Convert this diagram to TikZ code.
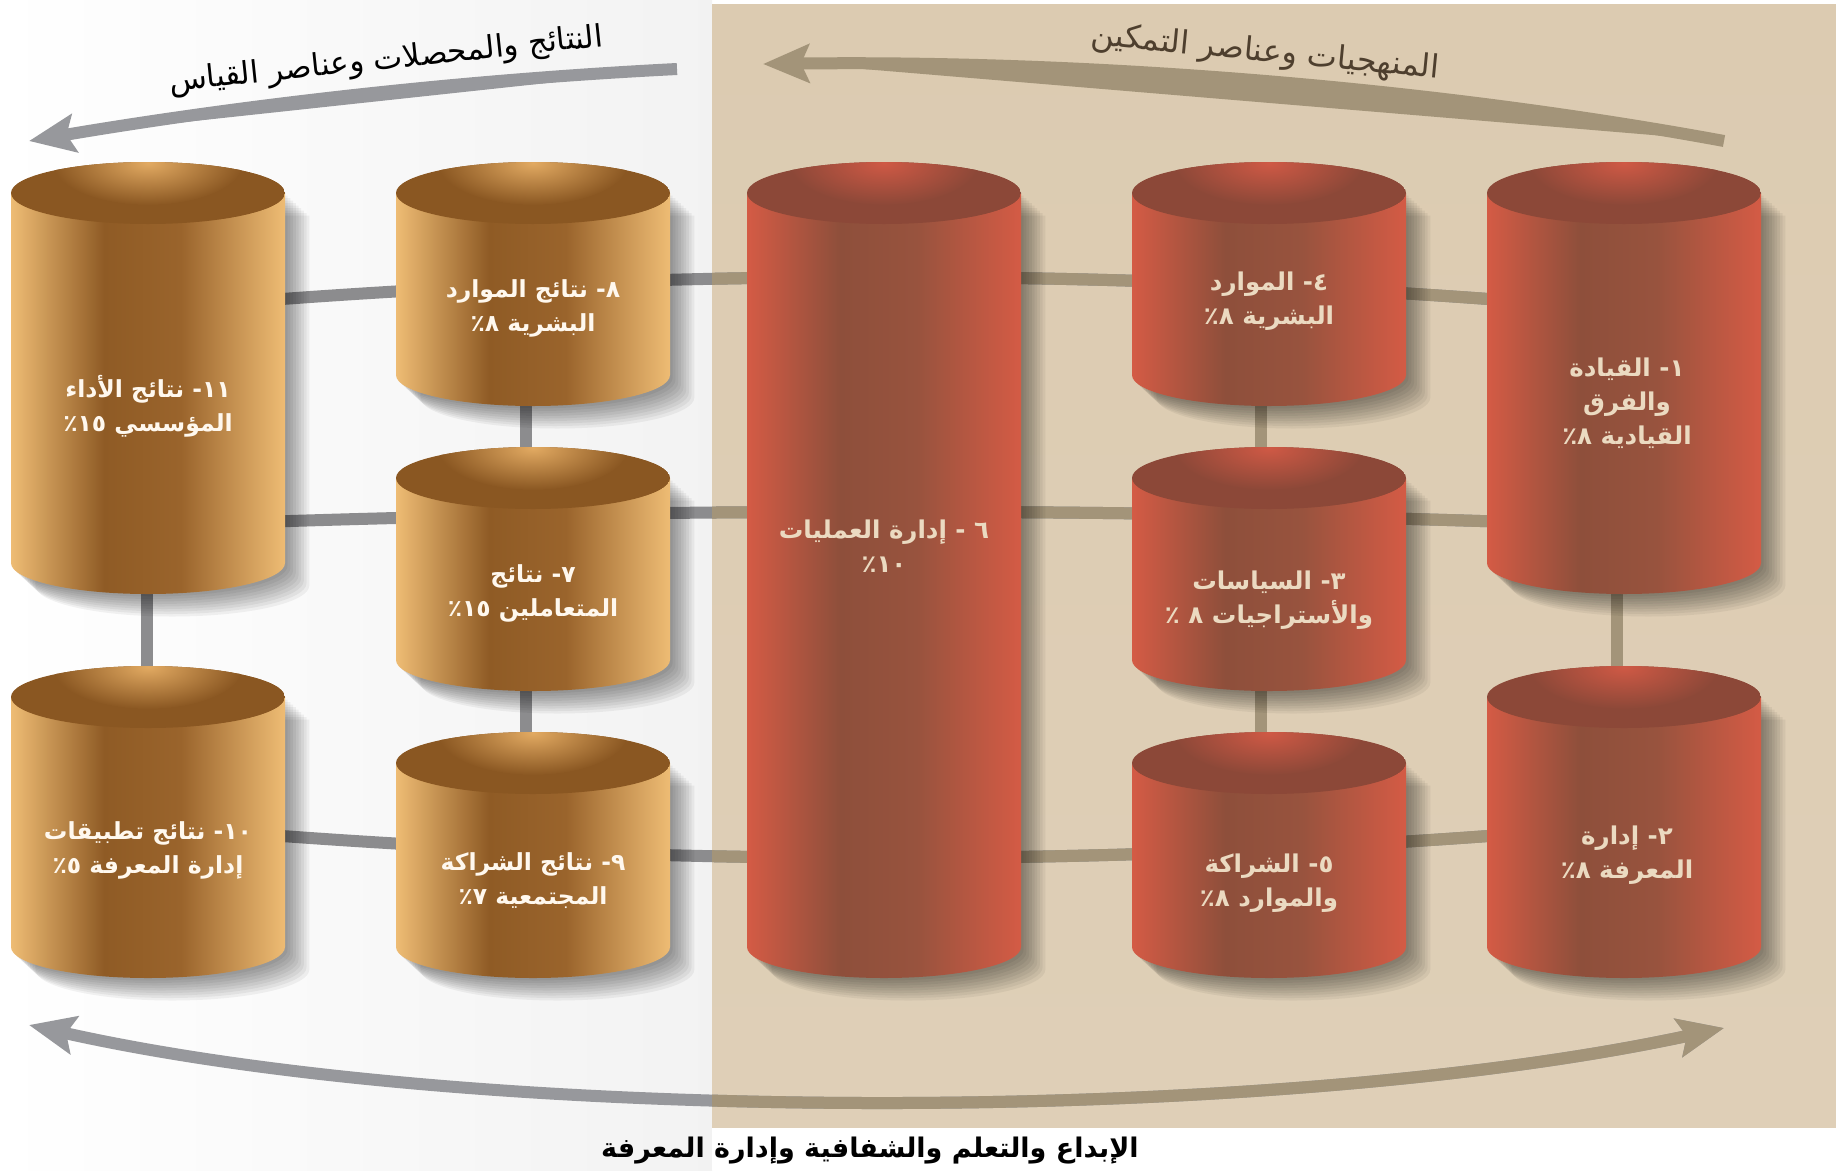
\documentclass[tikz,border=0pt]{standalone}
\usepackage{fontspec}
\TeXXeTstate=1
\newfontfamily\arabicfont[Script=Arabic]{DejaVu Sans}
\usetikzlibrary{arrows.meta}
\definecolor{panel}{HTML}{DCCBB1}
\definecolor{gL}{HTML}{EEBC74}
\definecolor{gD}{HTML}{8F5B25}
\definecolor{gM}{HTML}{9A642C}
\definecolor{gT}{HTML}{8A5722}
\definecolor{gH}{HTML}{E2AA62}
\definecolor{rL}{HTML}{D45B45}
\definecolor{rD}{HTML}{8E4F3B}
\definecolor{rM}{HTML}{98533E}
\definecolor{rT}{HTML}{8C4838}
\definecolor{rH}{HTML}{CF5945}
\definecolor{lineG}{HTML}{8C8C8E}
\definecolor{lineB}{HTML}{A39479}
\definecolor{arrG}{HTML}{97989C}
\definecolor{txtG}{HTML}{FFF8EE}
\definecolor{txtR}{HTML}{EBDAC1}
\definecolor{ttlB}{HTML}{4E3F2E}
\pgfdeclarehorizontalshading{gbody}{100bp}{color(0bp)=(gL); color(25bp)=(gL); color(42bp)=(gD); color(56bp)=(gM); color(75bp)=(gL); color(100bp)=(gL)}
\pgfdeclarehorizontalshading{rbody}{100bp}{color(0bp)=(rL); color(25bp)=(rL); color(42bp)=(rD); color(56bp)=(rM); color(75bp)=(rL); color(100bp)=(rL)}
\newcommand{\cylpath}[3]{(#1-137,#2) -- (#1-137,#3) arc[start angle=180,end angle=0,x radius=137,y radius=31] -- (#1+137,#2) -- cycle}
\newcommand{\cylinder}[4]{%
  \foreach \k in {1,...,9}{
    \fill[black,opacity=0.05,shift={(2.7*\k,2.5*\k)}] \cylpath{#1}{#2}{#3};
  }
  \shade[shading=#4body] \cylpath{#1}{#2}{#3};
  \begin{scope}
    \clip (#1,#2) ellipse [x radius=137,y radius=31];
    \fill[#4T] (#1,#2) ellipse [x radius=137,y radius=31];
    \shade[inner color=#4H, outer color=#4T] (#1,#2-30) ellipse [x radius=95,y radius=42];
  \end{scope}
}
\tikzset{
  gtxt/.style={font=\arabicfont\bfseries\fontsize{23.5}{34}\selectfont, text=txtG, align=center},
  rtxt/.style={font=\arabicfont\bfseries\fontsize{24.5}{34}\selectfont, text=txtR, align=center},
  rowline/.style={line width=12pt},
  bigtip/.style={line width=12pt}
}
\begin{document}
\begin{tikzpicture}[x=1pt,y=-1pt]
\useasboundingbox (0,0) rectangle (1836,1170);
% backgrounds
\shade[left color=white, right color=black!5] (0,0) rectangle (712,1170);
\fill[white] (712,1127) rectangle (1836,1170);
\shade[top color=panel, bottom color=panel!92!white] (712,4) rectangle (1836,1127);
% connector coordinates
\coordinate (t1) at (147,310); \coordinate (t5) at (1624,310);
\coordinate (m1) at (147,526); \coordinate (m5) at (1624,526);
\coordinate (b1) at (147,825); \coordinate (b5) at (1624,825);
\coordinate (v11) at (147,563); \coordinate (v10) at (147,697);
\coordinate (v8) at (526,375); \coordinate (v7a) at (526,478);
\coordinate (v7b) at (526,660); \coordinate (v9) at (526,763);
\coordinate (v4) at (1261,375); \coordinate (v3a) at (1261,478);
\coordinate (v3b) at (1261,660); \coordinate (v5) at (1261,763);
\coordinate (v1) at (1617,563); \coordinate (v2) at (1617,697);
\newcommand{\connectors}{%
  \draw[rowline] (t1) .. controls (638,266) and (1131,266) .. (t5);
  \draw[rowline] (m1) .. controls (638,507) and (1131,507) .. (m5);
  \draw[rowline] (b1) .. controls (638,869) and (1131,869) .. (b5);
  \draw[rowline] (v11) -- (v10);
  \draw[rowline] (v8) -- (v7a);
  \draw[rowline] (v7b) -- (v9);
  \draw[rowline] (v4) -- (v3a);
  \draw[rowline] (v3b) -- (v5);
  \draw[rowline] (v1) -- (v2);
}
\begin{scope}[draw=lineG]\connectors\end{scope}
\begin{scope}
  \clip (712,0) rectangle (1836,1127);
  \begin{scope}[draw=lineB]\connectors\end{scope}
\end{scope}
% cylinders
\cylinder{148}{193}{563}{g}
\cylinder{148}{697}{947}{g}
\cylinder{533}{193}{375}{g}
\cylinder{533}{478}{660}{g}
\cylinder{533}{763}{947}{g}
\cylinder{884}{193}{947}{r}
\cylinder{1269}{193}{375}{r}
\cylinder{1269}{478}{660}{r}
\cylinder{1269}{763}{947}{r}
\cylinder{1624}{193}{563}{r}
\cylinder{1624}{697}{947}{r}
% texts
\node[gtxt] (c11) at (148,406) {\beginR ١١- نتائج الأداء\endR\\\beginR المؤسسي ١٥٪\endR};
\node[gtxt] (c8) at (533,308) {\beginR ٨- نتائج الموارد\endR\\\beginR البشرية ٨٪\endR};
\node[gtxt] (c7) at (533,593) {\beginR ٧- نتائج\endR\\\beginR المتعاملين ١٥٪\endR};
\node[gtxt] (c10) at (148,850) {\beginR ١٠- نتائج تطبيقات\endR\\\beginR إدارة المعرفة ٥٪\endR};
\node[gtxt] (c9) at (533,881) {\beginR ٩- نتائج الشراكة\endR\\\beginR المجتمعية ٧٪\endR};
\node[rtxt] (c6) at (884,546) {\beginR ٦ - إدارة العمليات\endR\\\beginR ١٠٪\endR};
\node[rtxt] (c4) at (1269,301) {\beginR ٤- الموارد\endR\\\beginR البشرية ٨٪\endR};
\node[rtxt] (c3) at (1269,600) {\beginR ٣- السياسات\endR\\\beginR والأستراجيات ٨ ٪\endR};
\node[rtxt] (c5) at (1269,883) {\beginR ٥- الشراكة\endR\\\beginR والموارد ٨٪\endR};
\node[rtxt] (c1) at (1627,403) {\beginR ١- القيادة\endR\\\beginR والفرق\endR\\\beginR القيادية ٨٪\endR};
\node[rtxt] (c2) at (1627,855) {\beginR ٢- إدارة\endR\\\beginR المعرفة ٨٪\endR};
% arrows
\coordinate (aL1) at (677,69); \coordinate (aL2) at (29,141);
\coordinate (aR1) at (1724,141); \coordinate (aR2) at (763,64);
\coordinate (aB1) at (29,1025); \coordinate (aB2) at (1724,1028);
\draw[bigtip, draw=arrG, fill=arrG, -{Stealth[length=46pt,width=38pt,inset=8pt]}] (aL1) .. controls (420,82) and (200,112) .. (aL2);
\draw[bigtip, draw=lineB, fill=lineB, -{Stealth[length=46pt,width=38pt,inset=8pt]}] (aR1) .. controls (1420,85) and (1080,60) .. (aR2);
\newcommand{\bottomarrow}{\draw[bigtip, {Stealth[length=46pt,width=38pt,inset=8pt]}-{Stealth[length=46pt,width=38pt,inset=8pt]}] (aB1) .. controls (480,1126) and (1270,1126) .. (aB2);}
\begin{scope}[draw=arrG, fill=arrG]\bottomarrow\end{scope}
\begin{scope}
  \clip (712,0) rectangle (1836,1127);
  \begin{scope}[draw=lineB, fill=lineB]\bottomarrow\end{scope}
\end{scope}
% titles
\node[font=\arabicfont\fontsize{31}{33}\selectfont, rotate=6, text=black] (ttlL) at (386,61) {\beginR النتائج والمحصلات وعناصر القياس\endR};
\node[font=\arabicfont\fontsize{32}{34}\selectfont, rotate=-5.5, text=ttlB] (ttlR) at (1265,53) {\beginR المنهجيات وعناصر التمكين\endR};
\node[font=\arabicfont\bfseries\fontsize{27}{30}\selectfont, text=black] (ttlB) at (870,1151) {\beginR الإبداع والتعلم والشفافية وإدارة المعرفة\endR};
\end{tikzpicture}
\end{document}
